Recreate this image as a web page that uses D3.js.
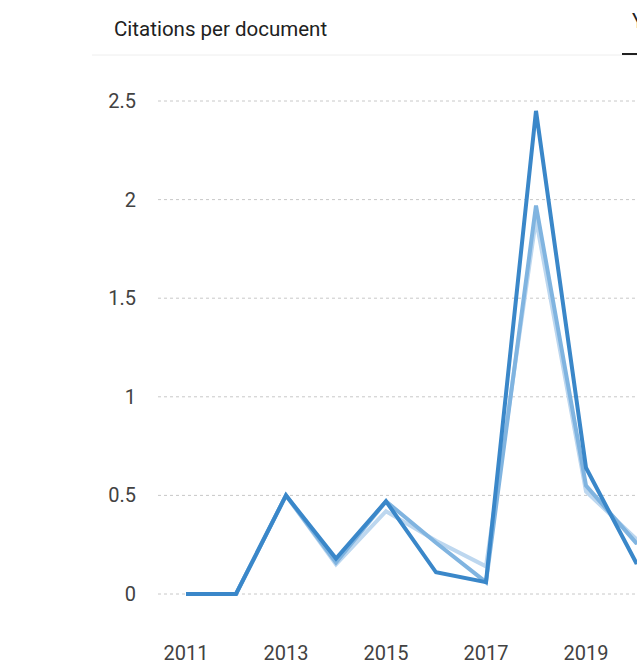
<!DOCTYPE html>
<html>
<head>
<meta charset="utf-8">
<script src="https://cdn.jsdelivr.net/npm/d3@7"></script>
<style>
  body { margin: 0; background: #fff; font-family: Roboto, "Noto Sans", sans-serif; }
  svg { display: block; }
</style>
</head>
<body>
<svg id="chart" width="637" height="665"></svg>
<script>
const years = [2011, 2012, 2013, 2014, 2015, 2016, 2017, 2018, 2019, 2020, 2021];
const yTicks = [0, 0.5, 1, 1.5, 2, 2.5];
const xTicks = [2011, 2013, 2015, 2017, 2019];
const darkSeries = [0, 0, 0.5, 0.18, 0.47, 0.11, 0.06, 2.45, 0.64, 0.16, 0.2];
const mediumSeries = [0, 0, 0.5, 0.16, 0.47, 0.26, 0.06, 1.97, 0.55, 0.26, 0.3];
const lightSeries = [0, 0, 0.5, 0.15, 0.42, 0.27, 0.14, 1.9, 0.52, 0.28, 0.3];

const svg = d3.select("#chart");

// header
svg.append("text")
  .attr("x", 114).attr("y", 36)
  .attr("font-size", 20.5).attr("fill", "#212121")
  .text("Citations per document");
svg.append("line")
  .attr("x1", 92).attr("x2", 637).attr("y1", 55).attr("y2", 55)
  .attr("stroke", "#eeeeee");
svg.append("text")
  .attr("x", 632).attr("y", 28)
  .attr("font-size", 20).attr("fill", "#212121")
  .text("Y");
svg.append("line")
  .attr("x1", 622).attr("x2", 637).attr("y1", 54).attr("y2", 54)
  .attr("stroke", "#212121").attr("stroke-width", 2);

const x = d3.scaleLinear().domain([2011, 2020]).range([186, 636]);
const y = d3.scaleLinear().domain([0, 2.5]).range([594, 101]);

// grid
svg.append("g")
  .selectAll("line")
  .data(yTicks)
  .join("line")
    .attr("x1", 158).attr("x2", 637)
    .attr("y1", d => y(d)).attr("y2", d => y(d))
    .attr("stroke", "#c8c8c8")
    .attr("stroke-dasharray", "3,3");

// y labels
svg.append("g")
  .selectAll("text")
  .data(yTicks)
  .join("text")
    .attr("x", 136)
    .attr("y", d => y(d))
    .attr("dy", "0.35em")
    .attr("text-anchor", "end")
    .attr("font-size", 20)
    .attr("fill", "#424242")
    .text(d => d);

// x labels
svg.append("g")
  .selectAll("text")
  .data(xTicks)
  .join("text")
    .attr("x", d => x(d))
    .attr("y", 660)
    .attr("text-anchor", "middle")
    .attr("font-size", 20)
    .attr("fill", "#424242")
    .text(d => d);

const line = d3.line()
  .x((d, i) => x(years[i]))
  .y(d => y(d));

const series = [
  { values: lightSeries, color: "#bdd7ef" },
  { values: mediumSeries, color: "#80b4e0" },
  { values: darkSeries, color: "#3a87c9" }
];

svg.append("g")
  .selectAll("path")
  .data(series)
  .join("path")
    .attr("d", d => line(d.values))
    .attr("fill", "none")
    .attr("stroke", d => d.color)
    .attr("stroke-width", 4)
    .attr("stroke-linejoin", "miter");
</script>
</body>
</html>
